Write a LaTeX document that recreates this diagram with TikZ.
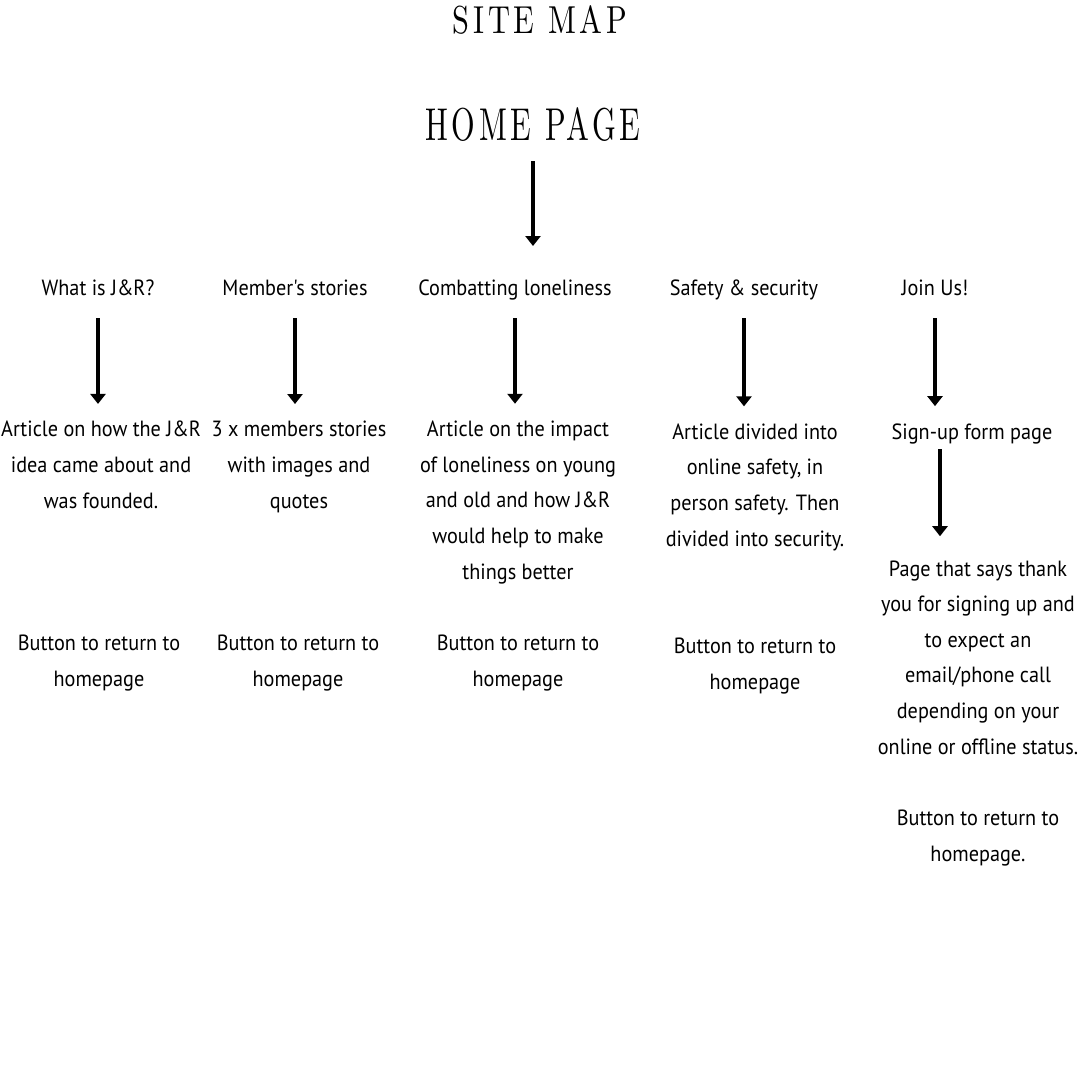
\documentclass[tikz,border=0pt]{standalone}
\usepackage{fontspec}
\newfontfamily\bodyfont{PT Sans}[FakeStretch=0.92]
\newfontfamily\titlefont{lmroman10-regular.otf}[LetterSpace=12]
\usetikzlibrary{arrows.meta}

\begin{document}
\begin{tikzpicture}[x=1pt, y=-1pt,
title/.style={inner sep=0pt},
item/.style={font=\bodyfont\fontsize{22}{35.6}\selectfont, align=center, inner sep=0pt, anchor=base},
arr/.style={line width=3.5pt, -{Triangle[width=15pt,length=10pt]}}]
\useasboundingbox (0,0) rectangle (1080,1080);
% titles
\node[title, font=\titlefont\fontsize{39}{42}\selectfont] (sitemap) at (540,20) {\scalebox{0.78}[1]{SITE MAP}};
\node[title, font=\titlefont\fontsize{46}{50}\selectfont] (home) at (533,125) {\scalebox{0.66}[1]{HOME PAGE}};
\coordinate (homeend) at (533,246);
\draw[arr] ([yshift=-36pt]home.center) -- (homeend);
% menu row
\node[item] (what) at (98,295) {What is J\&R?};
\node[item] (members) at (295,295) {Member's stories};
\node[item] (lonely) at (515,295) {Combatting loneliness};
\node[item] (safety) at (744,295) {Safety \& security};
\node[item] (join) at (935,295) {Join Us!};
% pages (base = last line)
\node[item] (whatpage) at (101,508) {Article on how the J\&R\\idea came about and\\was founded.};
\node[item] (memberspage) at (299,508) {3 x members stories\\with images and\\quotes};
\node[item] (lonelypage) at (518,579) {Article on the impact\\of loneliness on young\\and old and how J\&R\\would help to make\\things better};
\node[item] (safetypage) at (755,546) {Article divided into\\online safety, in\\person safety. Then\\divided into security.};
\node[item] (signup) at (972,439) {Sign-up form page};
\node[item] (thanks) at (978,754) {Page that says thank\\you for signing up and\\to expect an\\email/phone call\\depending on your\\online or offline status.};
% buttons
\node[item] (whatbtn) at (99,686) {Button to return to\\homepage};
\node[item] (membersbtn) at (298,686) {Button to return to\\homepage};
\node[item] (lonelybtn) at (518,686) {Button to return to\\homepage};
\node[item] (safetybtn) at (755,689) {Button to return to\\homepage};
\node[item] (joinbtn) at (978,861) {Button to return to\\homepage.};
% arrows
\foreach \from/\to in {what/whatpage, members/memberspage, lonely/lonelypage, safety/safetypage, join/signup}
  \draw[arr] ([yshift=-23pt]\from.base) -- ([yshift=17pt]\from.base |- \to.north);
\draw[arr] ([xshift=-32pt,yshift=-10pt]signup.base) -- ([xshift=-32pt,yshift=24pt]signup.base |- thanks.north);
\end{tikzpicture}
\end{document}
